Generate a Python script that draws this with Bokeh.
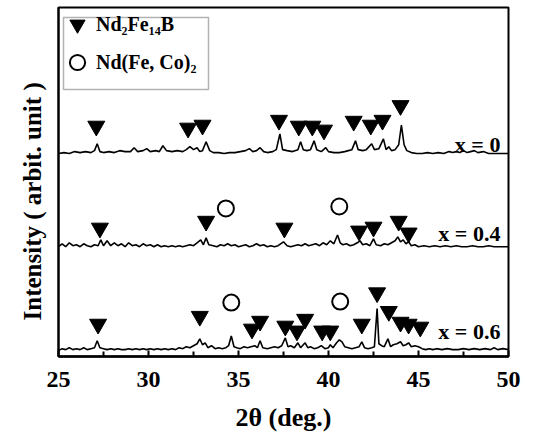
from bokeh.plotting import figure
from bokeh.models import Range1d, FixedTicker, Legend, LegendItem, BoxAnnotation, Title
from bokeh.core.properties import value
from bokeh.embed import file_html
from bokeh.resources import INLINE

FONT = "Liberation Serif"

# ---- data -------------------------------------------------------------
samples = ["x = 0", "x = 0.4", "x = 0.6"]
offsets = [206, 110, 5]          # vertical shift of each pattern (a.u.)

# x = 0 pattern : (2theta, intensity above its baseline)
pattern_0 = [
    (25.0, 1), (25.3, 2), (25.6, 1), (25.9, 3), (26.2, 2), (26.5, 3), (26.8, 2),
    (27.0, 4), (27.15, 11), (27.3, 3), (27.5, 2), (27.8, 3), (28.1, 2), (28.4, 4),
    (28.7, 3), (29.0, 3), (29.2, 7), (29.4, 3), (29.7, 4), (29.9, 6), (30.1, 3),
    (30.4, 4), (30.6, 3), (30.8, 9), (31.0, 4), (31.3, 3), (31.6, 4), (31.9, 3),
    (32.1, 5), (32.3, 8), (32.5, 5), (32.7, 7), (32.85, 3), (33.0, 4), (33.2, 13),
    (33.4, 4), (33.6, 2), (33.9, 2), (34.2, 1), (34.5, 2), (34.8, 2), (35.1, 3),
    (35.4, 4), (35.6, 6), (35.8, 3), (36.0, 4), (36.2, 7), (36.4, 3), (36.6, 2),
    (36.9, 3), (37.1, 5), (37.3, 21), (37.45, 5), (37.7, 4), (38.0, 3), (38.3, 5),
    (38.45, 13), (38.6, 5), (38.8, 4), (39.0, 5), (39.2, 14), (39.35, 5), (39.6, 3),
    (39.85, 7), (40.0, 3), (40.3, 2), (40.6, 2), (40.9, 3), (41.1, 4), (41.3, 5),
    (41.5, 14), (41.65, 5), (41.9, 4), (42.1, 5), (42.4, 11), (42.55, 5), (42.8, 6),
    (43.05, 16), (43.2, 5), (43.35, 8), (43.5, 4), (43.7, 5), (43.9, 10), (44.05, 30),
    (44.2, 10), (44.35, 4), (44.6, 2), (44.9, 1), (45.2, 1), (45.5, 2), (45.8, 1),
    (46.1, 2), (46.4, 1), (46.7, 3), (46.9, 2), (47.1, 3), (47.3, 2), (47.5, 4),
    (47.7, 2), (47.9, 3), (48.1, 4), (48.3, 2), (48.6, 3), (48.9, 1), (49.2, 1),
    (49.5, 1), (49.8, 1), (50.0, 1),
]

# x = 0.4 pattern
pattern_04 = [
    (25.0, 2), (25.2, 5), (25.4, 2), (25.6, 6), (25.8, 3), (26.0, 4), (26.2, 2),
    (26.4, 5), (26.6, 3), (26.8, 2), (27.0, 4), (27.2, 3), (27.35, 9), (27.5, 3),
    (27.7, 8), (27.9, 3), (28.1, 6), (28.3, 3), (28.5, 5), (28.7, 2), (28.9, 6),
    (29.1, 3), (29.3, 4), (29.5, 2), (29.7, 5), (29.9, 3), (30.1, 4), (30.3, 2),
    (30.5, 4), (30.7, 2), (30.9, 3), (31.1, 2), (31.3, 3), (31.5, 2), (31.7, 3),
    (31.9, 2), (32.1, 3), (32.3, 4), (32.5, 3), (32.7, 6), (32.9, 9), (33.05, 4),
    (33.2, 11), (33.35, 4), (33.6, 3), (33.8, 2), (34.0, 4), (34.2, 3), (34.4, 5),
    (34.6, 3), (34.8, 4), (35.0, 2), (35.2, 3), (35.4, 4), (35.6, 2), (35.8, 3),
    (36.0, 5), (36.2, 3), (36.4, 4), (36.6, 2), (36.8, 3), (37.0, 2), (37.2, 3),
    (37.5, 7), (37.7, 3), (37.9, 2), (38.1, 3), (38.3, 4), (38.5, 3), (38.7, 5),
    (38.9, 3), (39.1, 4), (39.3, 5), (39.5, 3), (39.7, 6), (39.9, 4), (40.1, 8),
    (40.3, 5), (40.5, 14), (40.65, 6), (40.8, 4), (41.0, 5), (41.2, 3), (41.4, 4),
    (41.6, 6), (41.75, 8), (41.9, 4), (42.1, 5), (42.3, 3), (42.5, 10), (42.65, 4),
    (42.9, 3), (43.1, 5), (43.3, 4), (43.5, 6), (43.7, 8), (43.85, 12), (44.0, 7),
    (44.15, 9), (44.3, 5), (44.45, 7), (44.6, 3), (44.8, 4), (45.0, 2), (45.3, 3),
    (45.6, 2), (45.9, 3), (46.2, 2), (46.5, 3), (46.8, 2), (47.1, 3), (47.4, 2),
    (47.7, 2), (48.0, 3), (48.3, 2), (48.6, 2), (48.9, 3), (49.2, 2), (49.5, 2),
    (49.8, 2), (50.0, 2),
]

# x = 0.6 pattern
pattern_06 = [
    (25.0, 1), (25.2, 3), (25.4, 2), (25.6, 4), (25.8, 2), (26.0, 3), (26.2, 2),
    (26.4, 4), (26.6, 2), (26.8, 3), (27.0, 4), (27.15, 11), (27.3, 4), (27.5, 3),
    (27.7, 2), (27.9, 3), (28.1, 2), (28.3, 3), (28.5, 2), (28.7, 2), (28.9, 3),
    (29.1, 2), (29.3, 3), (29.5, 2), (29.7, 3), (29.9, 2), (30.1, 3), (30.3, 2),
    (30.5, 3), (30.7, 2), (30.9, 3), (31.1, 2), (31.3, 3), (31.5, 2), (31.7, 4),
    (31.9, 3), (32.1, 5), (32.3, 4), (32.5, 6), (32.7, 8), (32.85, 13), (33.0, 7),
    (33.15, 9), (33.3, 4), (33.5, 6), (33.7, 3), (33.9, 4), (34.1, 3), (34.3, 4),
    (34.45, 6), (34.6, 16), (34.75, 5), (34.9, 4), (35.1, 3), (35.3, 5), (35.5, 4),
    (35.7, 5), (35.9, 6), (36.05, 4), (36.2, 11), (36.35, 4), (36.6, 3), (36.8, 4),
    (37.0, 5), (37.2, 4), (37.4, 6), (37.6, 14), (37.75, 5), (37.9, 6), (38.1, 4),
    (38.3, 9), (38.45, 4), (38.7, 9), (38.85, 4), (39.0, 5), (39.2, 3), (39.4, 4),
    (39.6, 6), (39.8, 3), (40.0, 4), (40.1, 7), (40.25, 4), (40.45, 9), (40.6, 12),
    (40.75, 10), (40.9, 5), (41.1, 4), (41.3, 3), (41.5, 4), (41.7, 5), (41.85, 10),
    (42.0, 4), (42.2, 3), (42.4, 4), (42.55, 5), (42.7, 44), (42.8, 8), (42.95, 6),
    (43.1, 5), (43.3, 13), (43.45, 5), (43.6, 7), (43.8, 8), (44.0, 10), (44.15, 6),
    (44.3, 7), (44.45, 9), (44.6, 5), (44.8, 6), (45.0, 5), (45.2, 3), (45.4, 2),
    (45.6, 3), (45.8, 2), (46.0, 3), (46.3, 2), (46.6, 3), (46.9, 2), (47.2, 2),
    (47.5, 3), (47.8, 2), (48.1, 3), (48.4, 2), (48.7, 3), (49.0, 2), (49.2, 4),
    (49.4, 2), (49.7, 3), (50.0, 2),
]
patterns = [pattern_0, pattern_04, pattern_06]

# Nd2Fe14B reflections (triangles) for each sample
tri_x = [
    [27.1, 32.2, 33.0, 37.25, 38.35, 39.1, 39.75, 41.4, 42.35, 43.0, 44.0],
    [27.3, 33.2, 37.55, 41.7, 42.5, 43.9, 44.45],
    [27.2, 32.85, 35.75, 36.2, 37.6, 38.25, 38.7, 39.65, 40.1, 41.85, 42.7,
     43.35, 44.0, 44.45, 45.1],
]
tri_y = [
    [235, 233, 236, 241, 235, 235, 231, 240, 236, 241, 256],
    [131, 138, 131, 128, 132, 138, 126],
    [33, 41, 28, 36, 31, 26, 38, 26, 26, 33, 65, 46, 35, 33, 30],
]
# Nd(Fe,Co)2 reflections (circles)
circ_x = [[], [34.3, 40.6], [34.6, 40.65]]
circ_y = [[], [151, 153], [55, 56]]

label_x = [49.55, 49.55, 49.55]
label_y = [216, 125, 25]

x_major = [25, 30, 35, 40, 45, 50]
x_minor = [27.5, 32.5, 37.5, 42.5, 47.5]

x_title = "2θ (deg.)"
y_title = "Intensity ( arbit. unit )"

# ---- figure -----------------------------------------------------------
p = figure(width=530, height=434, x_range=Range1d(25, 50), y_range=Range1d(0, 356),
           output_backend="svg", toolbar_location=None,
           min_border_left=58, min_border_right=22, min_border_top=7,
           min_border_bottom=71)
p.xgrid.visible = False
p.ygrid.visible = False
p.outline_line_color = "black"
p.outline_line_width = 2
p.background_fill_color = "white"
p.border_fill_color = "white"

for pat, off in zip(patterns, offsets):
    xs = [a for a, b in pat]
    ys = [b + off for a, b in pat]
    p.line(xs, ys, line_color="black", line_width=1.6)

tri_renderers = []
circ_renderers = []
for k in range(3):
    r = p.scatter(tri_x[k], tri_y[k], marker="inverted_triangle", size=17,
                  fill_color="black", line_color="black", line_width=1)
    tri_renderers.append(r)
    if circ_x[k]:
        c = p.scatter(circ_x[k], circ_y[k], marker="circle", size=16,
                      fill_color="white", line_color="black", line_width=2)
        circ_renderers.append(c)

p.text(x=label_x, y=label_y, text=samples, text_align="right",
       text_baseline="middle", text_font=value(FONT), text_font_style="bold",
       text_font_size="22px", text_color="black")

# x axis
xa = p.xaxis[0]
xa.ticker = FixedTicker(ticks=x_major, minor_ticks=x_minor)
xa.major_tick_in = 6
xa.major_tick_out = 0
xa.minor_tick_in = 5
xa.minor_tick_out = 0
xa.axis_line_width = 2.5
xa.major_tick_line_width = 2
xa.minor_tick_line_width = 2
xa.major_label_text_font = FONT
xa.major_label_text_font_style = "bold"
xa.major_label_text_font_size = "24px"
xa.major_label_text_color = "black"
xa.major_label_standoff = 15
xa.axis_label = x_title
xa.axis_label_text_font = FONT
xa.axis_label_text_font_style = "bold"
xa.axis_label_text_font_size = "26px"
xa.axis_label_text_color = "black"
xa.axis_label_standoff = 13

# y axis (no ticks, no labels)
ya = p.yaxis[0]
ya.ticker = FixedTicker(ticks=[])
ya.major_tick_out = 0
ya.major_tick_in = 0
ya.minor_tick_out = 0
ya.major_tick_line_color = None
ya.major_label_standoff = 0
ya.axis_line_width = 2

ytitle = Title(text=y_title, align="left", offset=36,
               text_font=FONT, text_font_style="bold", text_font_size="25px",
               text_color="black")
if "standoff" in Title.properties():
    ytitle.standoff = 26
p.add_layout(ytitle, "left")

# legend
legend = Legend(
    items=[LegendItem(label="Nd₂Fe₁₄B", renderers=[tri_renderers[0]]),
           LegendItem(label="Nd(Fe, Co)₂", renderers=[circ_renderers[0]])],
    location=(0, 275), glyph_width=38, glyph_height=38, spacing=-7,
    padding=0, margin=0, label_standoff=-13,
    border_line_color=None, background_fill_alpha=0,
    label_text_font=FONT, label_text_font_style="bold",
    label_text_font_size="20px", label_text_color="black",
)
p.add_layout(legend)

box = BoxAnnotation(left=63, right=208, top=17, bottom=89,
                    left_units="canvas", right_units="canvas",
                    top_units="canvas", bottom_units="canvas",
                    fill_color=None, line_color="black", line_width=1.5)
p.add_layout(box)

open("out.html", "w").write(file_html(p, INLINE))
